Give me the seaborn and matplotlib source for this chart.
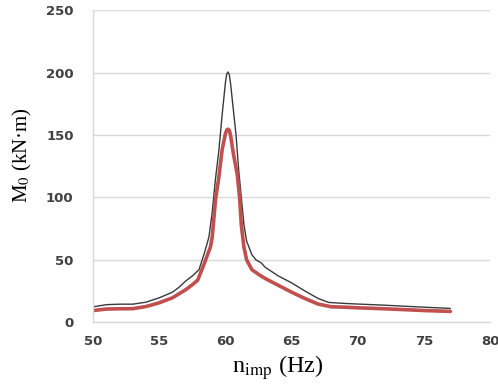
import pandas as pd
import seaborn as sns
import matplotlib.pyplot as plt

# black curve (upper)
x_black = [50, 51, 52, 53, 54, 55, 56, 56.5, 57, 57.5, 58, 58.4, 58.75, 59, 59.25, 59.5, 59.75, 60,
           60.1, 60.2, 60.3, 60.4, 60.6, 60.8, 61, 61.2, 61.4, 61.6, 62, 62.3, 62.7, 63, 64, 65, 66,
           67, 67.8, 69, 70, 72, 74, 75, 77]
m_black = [12.3, 14, 14.4, 14.4, 16, 19.5, 24, 28, 33, 37, 42, 55, 68, 88, 115, 137, 166, 192,
           199, 200.5, 198, 190, 170, 150, 122, 100, 78, 65, 54, 50, 47.5, 44, 37, 31.5, 25,
           19, 15.8, 15, 14.5, 13.6, 12.5, 12, 11]

# red curve (lower)
x_red = [50, 51, 52, 53, 54, 55, 56, 57, 57.5, 57.9, 58.4, 58.86, 59, 59.25, 59.5, 59.75, 60,
         60.1, 60.2, 60.3, 60.4, 60.6, 60.9, 61.07, 61.2, 61.4, 61.6, 62, 62.6, 63, 64, 65, 66,
         67, 68, 69, 70, 72, 74, 75, 77]
m_red = [9.3, 10.5, 10.7, 10.8, 12.5, 15.5, 19.5, 26, 30, 33.6, 47, 60, 68, 98, 116, 138, 151,
         154, 154.6, 153.5, 149, 135, 118, 100, 78, 60, 50, 42, 37.6, 35, 29.5, 24, 19,
         14.5, 12.3, 12, 11.5, 10.7, 9.8, 9.3, 8.6]

df_black = pd.DataFrame({'n': x_black, 'M': m_black})
df_red = pd.DataFrame({'n': x_red, 'M': m_red})

sns.set_theme(style='whitegrid')
plt.rcParams['mathtext.fontset'] = 'stix'

fig = plt.figure(figsize=(4.98, 3.9), dpi=100)
ax = fig.add_axes([0.187, 0.174, 0.797, 0.80])

sns.lineplot(data=df_black, x='n', y='M', color='#3a3a3a', lw=1.0, ax=ax, sort=False)
sns.lineplot(data=df_red, x='n', y='M', color='#c0504d', lw=2.6, ax=ax, sort=False)

ax.set_xlim(50, 80)
ax.set_ylim(0, 250)
ax.set_xticks(range(50, 81, 5))
ax.set_yticks(range(0, 251, 50))
ax.grid(axis='x', visible=False)
ax.grid(axis='y', color='#d9d9d9', lw=1)
ax.set_facecolor('white')
for s in ['top', 'right']:
    ax.spines[s].set_visible(False)
for s in ['left', 'bottom']:
    ax.spines[s].set_color('#d9d9d9')
    ax.spines[s].set_linewidth(1)

ax.tick_params(length=0, labelsize=9.5, labelcolor='#404040')
ax.tick_params(axis='y', pad=14)
ax.tick_params(axis='x', pad=9)
for lab in ax.get_xticklabels() + ax.get_yticklabels():
    lab.set_fontweight('bold')
    lab.set_family('DejaVu Sans')

ax.set_xlabel(r'n$_{\mathrm{imp}}$ (Hz)', family='Liberation Serif', fontsize=17.5, color='black')
ax.set_ylabel(r'M$_0$ (kN·m)', family='Liberation Serif', fontsize=15, color='black')
ax.xaxis.set_label_coords(0.466, -0.098)
ax.yaxis.set_label_coords(-0.148, 0.535)

fig.savefig('out.png', dpi=100)
